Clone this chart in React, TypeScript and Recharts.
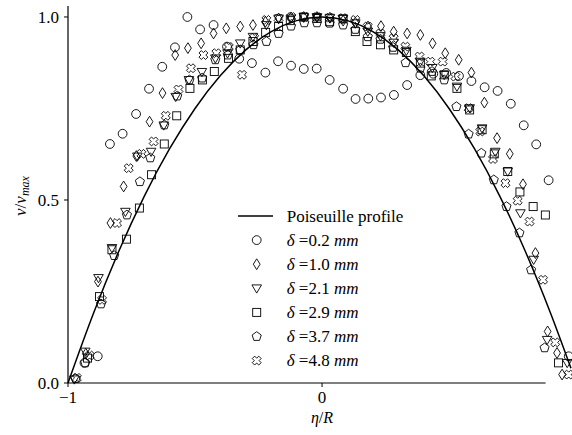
import React from "react";
import {
  ComposedChart,
  Line,
  Scatter,
  XAxis,
  YAxis,
  ReferenceLine,
  Label,
} from "recharts";

// Poiseuille profile
const profileX = [-1, -0.9, -0.8, -0.7, -0.6, -0.5, -0.4, -0.3, -0.2, -0.1, 0, 0.1, 0.2, 0.3, 0.4, 0.5, 0.6, 0.7, 0.8, 0.9, 0.98];
const profileY = [0, 0.19, 0.36, 0.51, 0.64, 0.75, 0.84, 0.91, 0.96, 0.99, 1.0, 0.99, 0.96, 0.91, 0.84, 0.75, 0.64, 0.51, 0.36, 0.19, 0.04];

// measured points, [eta/R, v/vmax]
const delta02: [number, number][] = [
  [-0.935, 0.055], [-0.883, 0.073], [-0.835, 0.653], [-0.785, 0.681], [-0.732, 0.735],
  [-0.681, 0.804], [-0.629, 0.864], [-0.579, 0.917], [-0.53, 1.0], [-0.48, 0.966],
  [-0.427, 0.978], [-0.374, 0.919], [-0.326, 0.886], [-0.276, 0.874], [-0.223, 0.848],
  [-0.173, 0.879], [-0.122, 0.867], [-0.072, 0.858], [-0.021, 0.859], [0.03, 0.828],
  [0.083, 0.804], [0.132, 0.776], [0.182, 0.777], [0.232, 0.78], [0.283, 0.787],
  [0.335, 0.814], [0.387, 0.841], [0.438, 0.845], [0.489, 0.847], [0.539, 0.839],
  [0.588, 0.825], [0.64, 0.808], [0.691, 0.798], [0.743, 0.763], [0.794, 0.704],
  [0.843, 0.652], [0.892, 0.554], [0.971, 0.073],
];

const delta10: [number, number][] = [
  [-0.93, 0.08], [-0.882, 0.277], [-0.833, 0.437], [-0.781, 0.537], [-0.731, 0.62],
  [-0.679, 0.714], [-0.628, 0.792], [-0.578, 0.896], [-0.528, 0.915], [-0.476, 0.928],
  [-0.427, 0.955], [-0.377, 0.969], [-0.322, 0.974], [-0.272, 0.978], [-0.223, 0.987],
  [-0.171, 0.996], [-0.122, 0.999], [-0.072, 1.0], [-0.02, 1.0], [0.031, 0.998],
  [0.083, 0.99], [0.131, 0.984], [0.181, 0.974], [0.232, 0.975], [0.282, 0.96],
  [0.335, 0.955], [0.387, 0.951], [0.435, 0.928], [0.485, 0.901], [0.538, 0.883],
  [0.588, 0.848], [0.639, 0.766], [0.689, 0.669], [0.739, 0.626], [0.791, 0.543],
  [0.84, 0.355], [0.888, 0.141], [0.925, 0.082], [0.945, 0.023],
];

const delta21: [number, number][] = [
  [-0.975, 0.01], [-0.932, 0.086], [-0.88, 0.287], [-0.827, 0.369], [-0.774, 0.468],
  [-0.727, 0.619], [-0.673, 0.632], [-0.623, 0.704], [-0.576, 0.782], [-0.524, 0.828],
  [-0.473, 0.85], [-0.42, 0.887], [-0.372, 0.901], [-0.322, 0.928], [-0.272, 0.946],
  [-0.219, 0.978], [-0.171, 0.996], [-0.123, 0.996], [-0.072, 1.0], [-0.02, 1.0],
  [0.031, 0.998], [0.082, 0.995], [0.131, 0.983], [0.18, 0.96], [0.23, 0.948],
  [0.282, 0.93], [0.332, 0.908], [0.387, 0.878], [0.434, 0.861], [0.481, 0.842],
  [0.531, 0.81], [0.581, 0.751], [0.63, 0.696], [0.682, 0.632], [0.731, 0.578],
  [0.781, 0.464], [0.833, 0.337], [0.886, 0.118], [0.965, 0.055],
];

const delta29: [number, number][] = [
  [-0.923, 0.068], [-0.876, 0.236], [-0.827, 0.364], [-0.77, 0.393], [-0.719, 0.478],
  [-0.671, 0.569], [-0.621, 0.653], [-0.572, 0.73], [-0.52, 0.805], [-0.471, 0.828],
  [-0.424, 0.851], [-0.368, 0.887], [-0.322, 0.91], [-0.272, 0.933], [-0.222, 0.958],
  [-0.171, 0.974], [-0.125, 0.99], [-0.072, 1.0], [-0.02, 0.996], [0.03, 0.987],
  [0.083, 0.995], [0.131, 0.96], [0.177, 0.933], [0.23, 0.924], [0.282, 0.91],
  [0.332, 0.903], [0.387, 0.874], [0.43, 0.839], [0.481, 0.842], [0.531, 0.805],
  [0.581, 0.746], [0.63, 0.692], [0.678, 0.626], [0.731, 0.578], [0.779, 0.522],
  [0.831, 0.482], [0.879, 0.459], [0.931, 0.055],
];

const delta37: [number, number][] = [
  [-0.97, 0.012], [-0.932, 0.055], [-0.87, 0.216], [-0.818, 0.348], [-0.768, 0.459],
  [-0.717, 0.55], [-0.676, 0.615], [-0.621, 0.705], [-0.57, 0.784], [-0.522, 0.828],
  [-0.472, 0.833], [-0.42, 0.883], [-0.371, 0.896], [-0.322, 0.91], [-0.27, 0.924],
  [-0.219, 0.933], [-0.171, 0.955], [-0.122, 0.975], [-0.07, 0.984], [-0.02, 0.984],
  [0.03, 0.983], [0.083, 0.978], [0.131, 0.966], [0.18, 0.946], [0.23, 0.939],
  [0.28, 0.917], [0.329, 0.875], [0.387, 0.86], [0.433, 0.851], [0.481, 0.828],
  [0.529, 0.755], [0.577, 0.68], [0.627, 0.628], [0.676, 0.555], [0.726, 0.482],
  [0.777, 0.41], [0.823, 0.309], [0.876, 0.096],
];

const delta48: [number, number][] = [
  [-0.965, 0.014], [-0.915, 0.075], [-0.866, 0.227], [-0.807, 0.437], [-0.761, 0.587],
  [-0.711, 0.626], [-0.663, 0.66], [-0.615, 0.73], [-0.565, 0.802], [-0.516, 0.86],
  [-0.467, 0.896], [-0.416, 0.901], [-0.367, 0.918], [-0.315, 0.842], [-0.267, 0.943],
  [-0.219, 0.992], [-0.171, 0.996], [-0.121, 1.0], [-0.07, 1.0], [-0.02, 1.0],
  [0.03, 0.998], [0.082, 0.997], [0.131, 0.992], [0.18, 0.974], [0.23, 0.955],
  [0.282, 0.942], [0.328, 0.919], [0.384, 0.892], [0.426, 0.878], [0.475, 0.878],
  [0.525, 0.837], [0.577, 0.751], [0.623, 0.687], [0.673, 0.612], [0.722, 0.546],
  [0.77, 0.498], [0.817, 0.441], [0.87, 0.282], [0.918, 0.111], [0.971, 0.023],
];

const legendLabels = ["0.2", "1.0", "2.1", "2.9", "3.7", "4.8"];
const xTicks = [-1, 0];
const yTicks = [0, 0.5, 1.0];

const FONT = "Liberation Serif, DejaVu Serif, serif";

const toPts = (arr: [number, number][]) => arr.map(([x, y]) => ({ x, y }));
const profile = profileX.map((x, i) => ({ x, y: profileY[i] }));

type Kind = "circle" | "diamond" | "tri" | "square" | "pent" | "cross";

function Marker({ kind, cx, cy }: { kind: Kind; cx: number; cy: number }) {
  const s = { fill: "none", stroke: "#000", strokeWidth: 0.9 };
  if (kind === "circle") return <circle cx={cx} cy={cy} r={4.4} {...s} />;
  if (kind === "square") return <rect x={cx - 4} y={cy - 4} width={8} height={8} {...s} />;
  let pts: [number, number][] = [];
  if (kind === "diamond") pts = [[0, -5.4], [3.4, 0], [0, 5.4], [-3.4, 0]];
  if (kind === "tri") pts = [[-4.8, -3.4], [4.8, -3.4], [0, 4.8]];
  if (kind === "pent") {
    for (let k = 0; k < 5; k++) {
      const a = (-90 + 72 * k) * (Math.PI / 180);
      pts.push([4.8 * Math.cos(a), 4.8 * Math.sin(a)]);
    }
  }
  if (kind === "cross") {
    const a = 4.6, t = 1.7;
    const plus: [number, number][] = [
      [t, a], [t, t], [a, t], [a, -t], [t, -t], [t, -a],
      [-t, -a], [-t, -t], [-a, -t], [-a, t], [-t, t], [-t, a],
    ];
    pts = plus.map(([x, y]) => [(x - y) / Math.SQRT2, (x + y) / Math.SQRT2]);
  }
  return <polygon points={pts.map(([x, y]) => `${cx + x},${cy + y}`).join(" ")} {...s} />;
}

const series: { data: [number, number][]; kind: Kind }[] = [
  { data: delta02, kind: "circle" },
  { data: delta10, kind: "diamond" },
  { data: delta21, kind: "tri" },
  { data: delta29, kind: "square" },
  { data: delta37, kind: "pent" },
  { data: delta48, kind: "cross" },
];

function XTitle(props: any) {
  const vb = props.viewBox || { x: 68, y: 383, width: 503 };
  return (
    <text x={vb.x + 254} y={423} textAnchor="middle" fontSize={16} style={{ fontFamily: FONT }} fill="#000">
      <tspan fontStyle="italic">η</tspan>
      <tspan>/</tspan>
      <tspan fontStyle="italic">R</tspan>
    </text>
  );
}

function YTitle() {
  return (
    <text x={26} y={196} transform="rotate(-90, 26, 196)" textAnchor="middle" fontSize={17} style={{ fontFamily: FONT }} fill="#000">
      <tspan fontStyle="italic">v</tspan>
      <tspan>/</tspan>
      <tspan fontStyle="italic">v</tspan>
      <tspan fontStyle="italic" fontSize={12} dy={3}>max</tspan>
    </text>
  );
}

function ChartLegend() {
  const row = 24.1;
  return (
    <svg width={200} height={175} style={{ position: "absolute", left: 230, top: 200, fontFamily: FONT }}>
      <line x1={8} x2={43} y1={16} y2={16} stroke="#000" strokeWidth={1.5} />
      <text x={56.7} y={21.5} fontSize={17} fill="#000">Poiseuille profile</text>
      {series.map((s, i) => {
        const cy = 16 + row * (i + 1);
        return (
          <g key={s.kind}>
            <Marker kind={s.kind} cx={26.7} cy={cy} />
            <text x={56.7} y={cy + 5.5} fontSize={17} fill="#000" style={{ whiteSpace: "pre" }}>
              <tspan fontStyle="italic">δ</tspan>
              <tspan>{" =" + legendLabels[i] + " "}</tspan>
              <tspan fontStyle="italic">mm</tspan>
            </text>
          </g>
        );
      })}
    </svg>
  );
}

export default function App() {
  const tickStyle = { fill: "#000", fontSize: 17, style: { fontFamily: FONT } };
  return (
    <div style={{ position: "absolute", left: 0, top: 0, width: 572, height: 435, background: "#fff", fontFamily: FONT }}>
      <ComposedChart width={572} height={435} margin={{ top: 6, right: 1, bottom: 0, left: 0 }}>
        <XAxis
          type="number"
          dataKey="x"
          domain={[-1, 0.98]}
          ticks={xTicks}
          interval={0}
          tickFormatter={(v: number) => (v < 0 ? "\u2212" + Math.abs(v) : String(v))}
          axisLine={false}
          tickLine={{ stroke: "#000" }}
          tickSize={4}
          tickMargin={4}
          tick={tickStyle}
          height={52}
        >
          <Label content={<XTitle />} />
        </XAxis>
        <YAxis
          type="number"
          dataKey="y"
          domain={[0, 1.03]}
          ticks={yTicks}
          interval={0}
          tickFormatter={(v: number) => v.toFixed(1)}
          axisLine={{ stroke: "#000", strokeWidth: 1.2 }}
          tickLine={{ stroke: "#000" }}
          tickSize={4}
          tickMargin={5}
          tick={tickStyle}
          width={68}
        >
          <Label content={<YTitle />} />
        </YAxis>
        <ReferenceLine
          segment={[{ x: -1, y: 0 }, { x: 0.88, y: 0 }]}
          stroke="#000"
          strokeWidth={1.2}
          ifOverflow="visible"
        />
        <Line
          data={profile}
          dataKey="y"
          type="monotone"
          stroke="#000"
          strokeWidth={1.5}
          dot={false}
          activeDot={false}
          isAnimationActive={false}
        />
        {series.map((s) => (
          <Scatter
            key={s.kind}
            data={toPts(s.data)}
            dataKey="y"
            isAnimationActive={false}
            shape={(p: any) => <Marker kind={s.kind} cx={p.cx} cy={p.cy} />}
          />
        ))}
      </ComposedChart>
      <ChartLegend />
    </div>
  );
}
